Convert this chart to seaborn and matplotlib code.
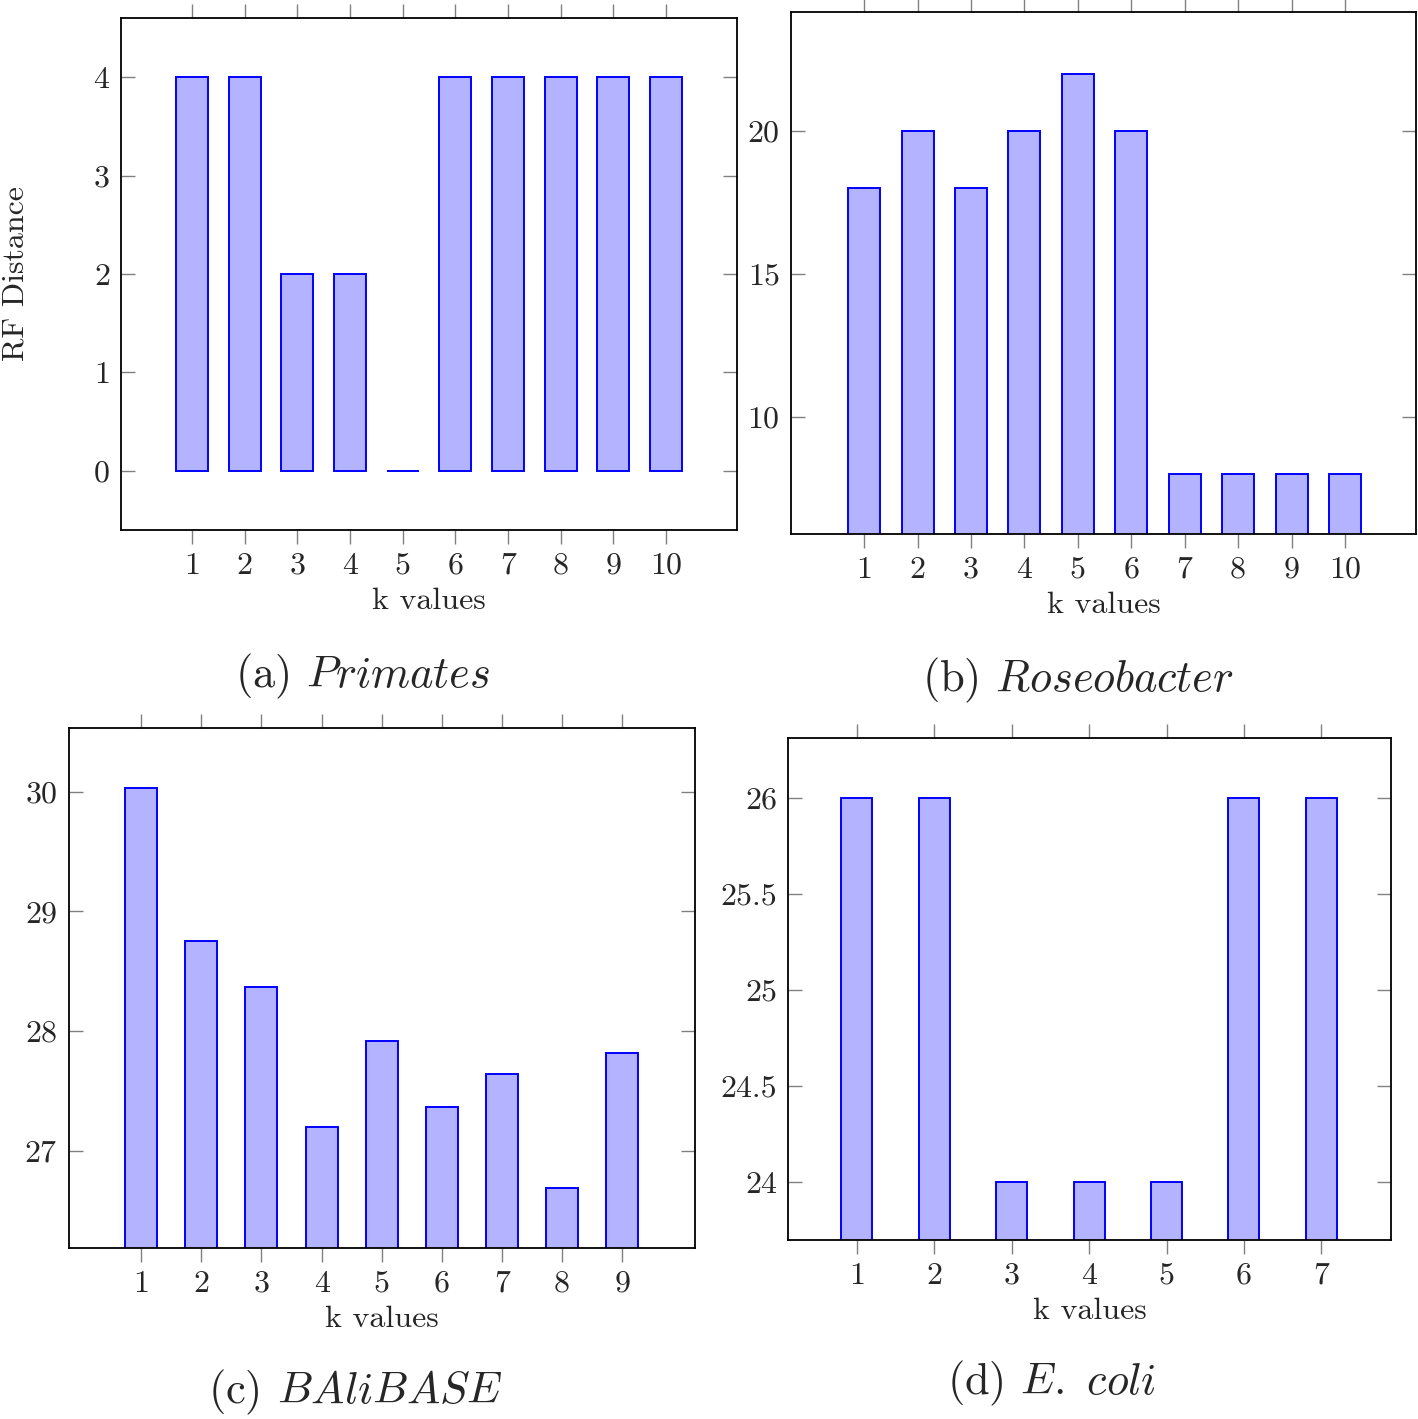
import matplotlib
matplotlib.use("Agg")
import matplotlib.pyplot as plt
import seaborn as sns
import pandas as pd

sns.set_style("white")
plt.rcParams['font.family'] = ['cmr10', 'DejaVu Serif']
plt.rcParams['mathtext.fontset'] = 'cm'
plt.rcParams['axes.formatter.use_mathtext'] = True

# ---- data ----
k_primates = [1, 2, 3, 4, 5, 6, 7, 8, 9, 10]
rf_primates = [4, 4, 2, 2, 0, 4, 4, 4, 4, 4]

k_roseo = [1, 2, 3, 4, 5, 6, 7, 8, 9, 10]
rf_roseo = [18, 20, 18, 20, 22, 20, 8, 8, 8, 8]

k_bali = [1, 2, 3, 4, 5, 6, 7, 8, 9]
rf_bali = [30.03, 28.75, 28.37, 27.2, 27.92, 27.37, 27.64, 26.69, 27.82]

k_ecoli = [1, 2, 3, 4, 5, 6, 7]
rf_ecoli = [26, 26, 24, 24, 24, 26, 26]

yticks_primates = [0, 1, 2, 3, 4]
yticks_roseo = [10, 15, 20]
yticks_bali = [27, 28, 29, 30]
yticks_ecoli = [24, 24.5, 25, 25.5, 26]
ytick_labels_ecoli = ["24", "24.5", "25", "25.5", "26"]

captions = [r"(a) $\mathit{Primates}$", r"(b) $\mathit{Roseobacter}$",
            r"(c) $\mathit{BAliBASE}$", r"(d) $\mathit{E.\ coli}$"]

FILL = "#b3b3ff"
EDGE = "#0000ff"
TICKC = "#808080"
FS = 23

W, H = 1418, 1419
fig = plt.figure(figsize=(W / 100, H / 100), dpi=100)


def make_axes(l, t, r, b):
    return fig.add_axes([l / W, 1 - b / H, (r - l) / W, (b - t) / H])


panels = [
    dict(box=(121, 18, 737, 530), k=k_primates, v=rf_primates, ylim=(-0.6, 4.6),
         xlim=(-0.35, 11.35), yt=yticks_primates, ytl=None, width=0.61, ylabel="RF Distance",
         cap=(363, 676)),
    dict(box=(791, 12, 1416, 534), k=k_roseo, v=rf_roseo, ylim=(5.91, 24.16),
         xlim=(-0.37, 11.33), yt=yticks_roseo, ytl=None, width=0.6, ylabel=None,
         cap=(1078, 680)),
    dict(box=(69, 728, 695, 1248), k=k_bali, v=rf_bali, ylim=(26.19, 30.53),
         xlim=(-0.2, 10.21), yt=yticks_bali, ytl=None, width=0.53, ylabel=None,
         cap=(355, 1392)),
    dict(box=(788, 738, 1391, 1240), k=k_ecoli, v=rf_ecoli, ylim=(23.70, 26.31),
         xlim=(0.11, 7.9), yt=yticks_ecoli, ytl=ytick_labels_ecoli, width=0.4, ylabel=None,
         cap=(1052, 1383)),
]

for p, cap in zip(panels, captions):
    ax = make_axes(*p["box"])
    df = pd.DataFrame({"k": p["k"], "rf": p["v"]})
    sns.barplot(data=df, x="k", y="rf", native_scale=True, width=p["width"],
                color=FILL, saturation=1, edgecolor=EDGE, linewidth=1.4, ax=ax)
    ax.set_xlim(*p["xlim"])
    ax.set_ylim(*p["ylim"])
    ax.set_xticks(p["k"])
    ax.set_xticklabels([str(x) for x in p["k"]])
    ax.set_yticks(p["yt"])
    if p["ytl"] is not None:
        ax.set_yticklabels(p["ytl"])
    ax.tick_params(axis="x", direction="out", length=10, width=1, color=TICKC,
                   top=True, bottom=True, labelsize=FS, pad=6)
    ax.tick_params(axis="y", direction="in", length=10, width=1, color=TICKC,
                   left=True, right=True, labelsize=FS, pad=8)
    for s in ax.spines.values():
        s.set_visible(True)
        s.set_color("black")
        s.set_linewidth(1.3)
    ax.set_xlabel("k values", fontsize=FS, labelpad=5.5)
    if p["ylabel"]:
        ax.set_ylabel(p["ylabel"], fontsize=FS, labelpad=46)
    else:
        ax.set_ylabel("")
    cx, cy = p["cap"]
    fig.text(cx / W, 1 - cy / H, cap, fontsize=32, ha="center", va="center")

fig.savefig("out.png", dpi=100, facecolor="white")
